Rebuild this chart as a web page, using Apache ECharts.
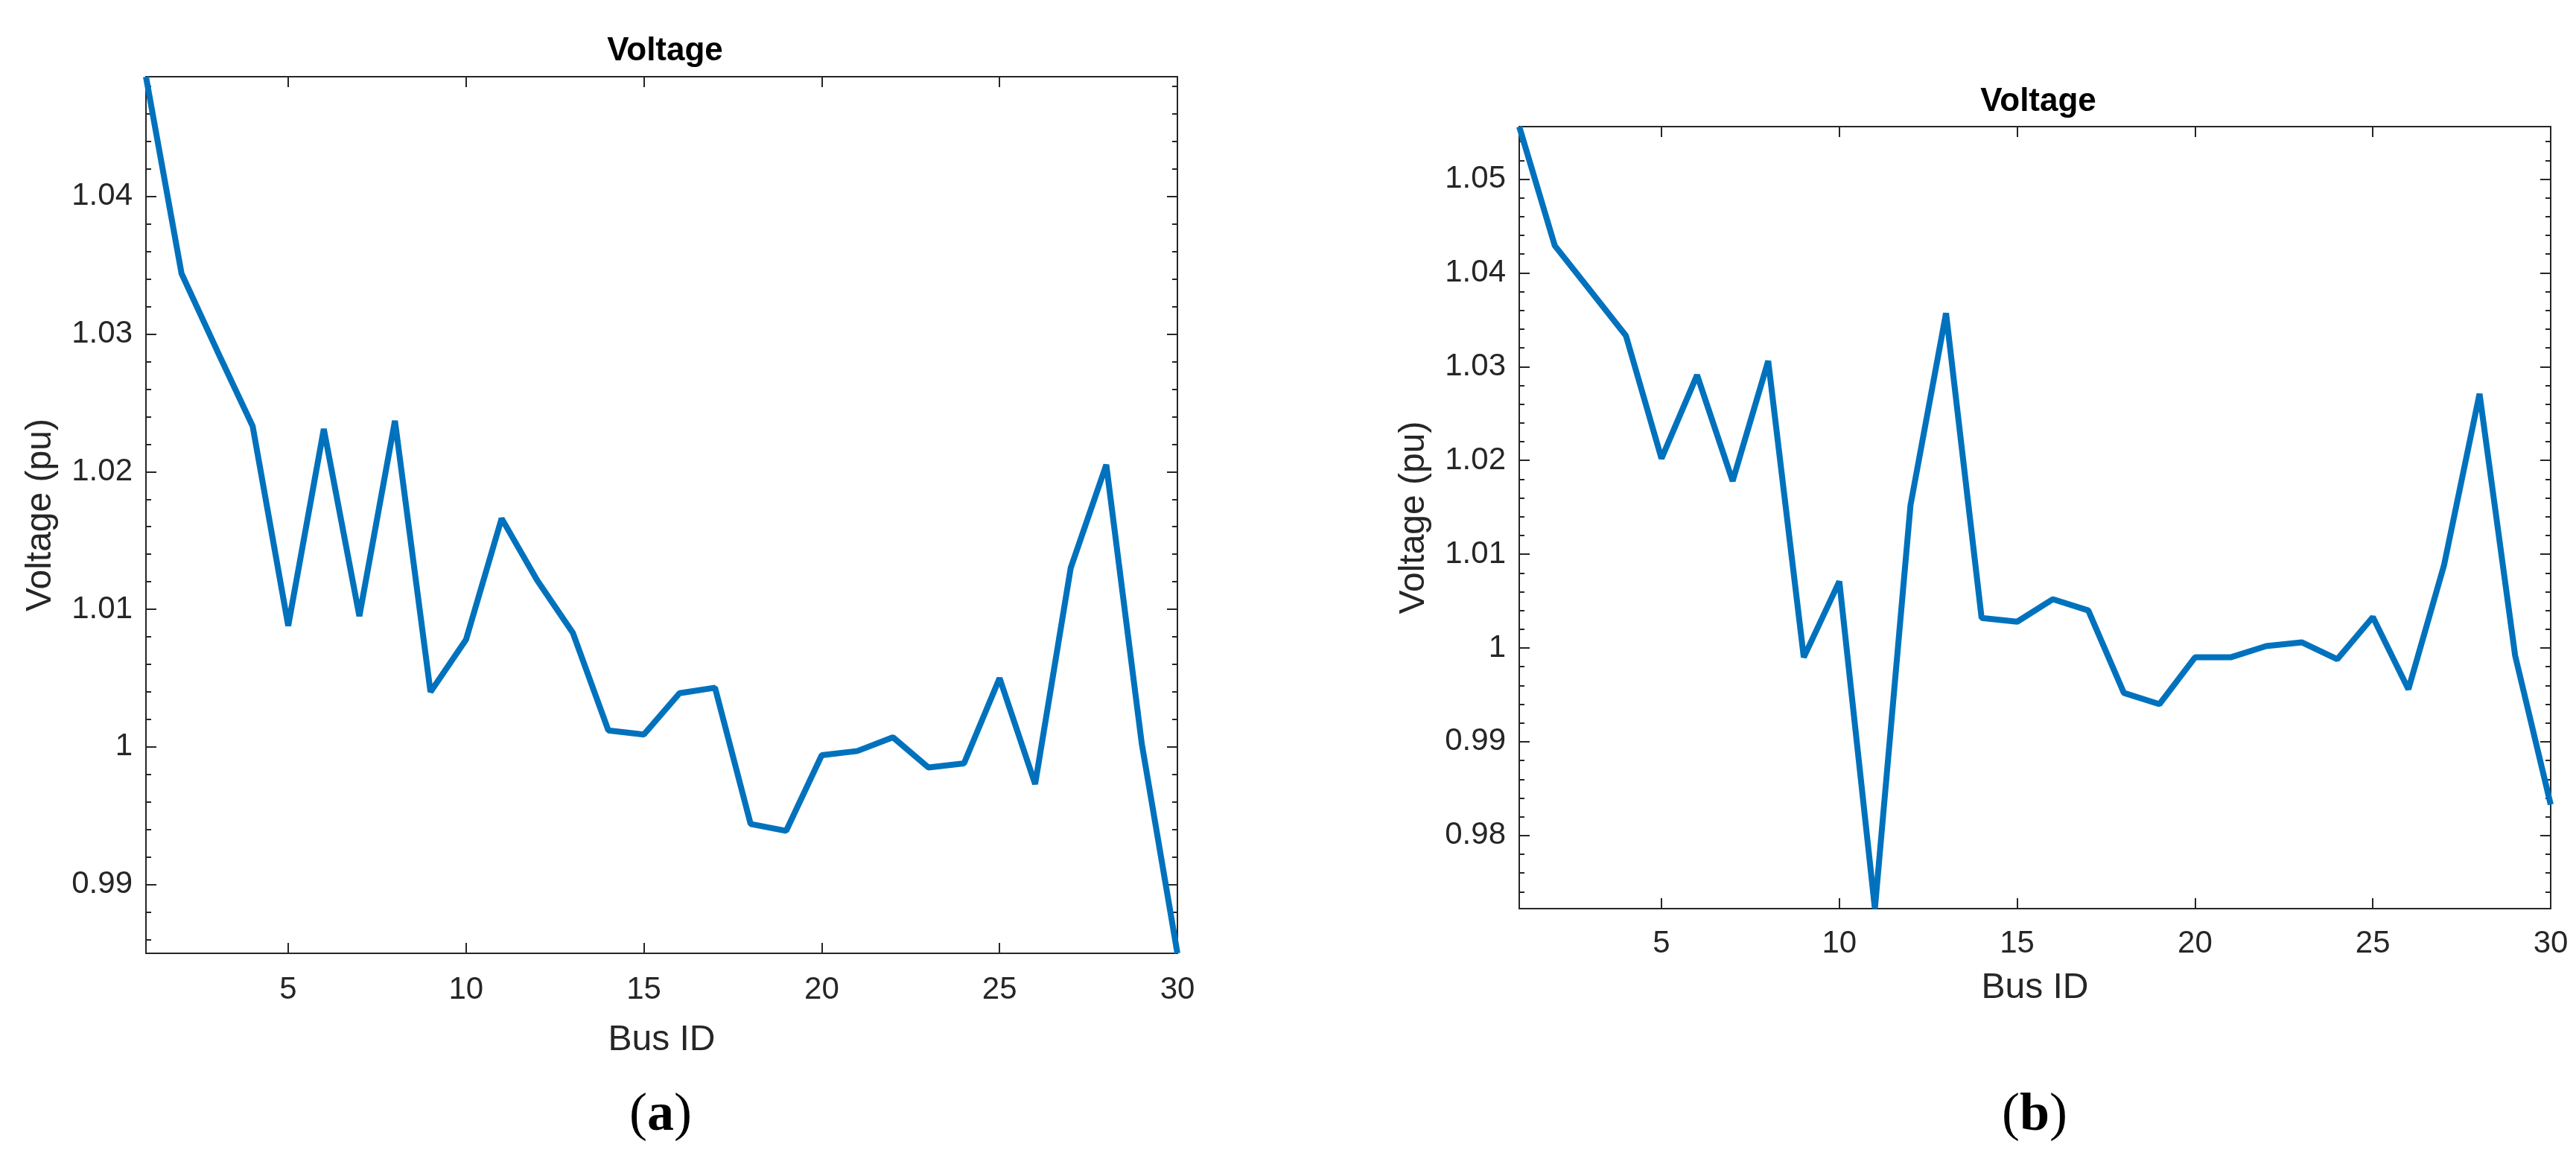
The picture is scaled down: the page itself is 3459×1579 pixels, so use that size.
<!DOCTYPE html>
<html>
<head>
<meta charset="utf-8">
<script src="https://cdn.jsdelivr.net/npm/echarts@6/dist/echarts.min.js"></script>
<style>html,body{margin:0;padding:0;background:#fff}#main{width:3459px;height:1579px}</style>
</head>
<body>
<div id="main"></div>
<script>
var dom = document.getElementById('main');
var myChart = echarts.init(dom);

// bus voltages
var voltageA = [1.0487, 1.0344, 1.0288, 1.0233, 1.0088, 1.0231, 1.0095, 1.0237, 1.0040, 1.0078,
    1.0166, 1.0121, 1.0083, 1.0012, 1.0009, 1.0039, 1.0043, 0.9944, 0.9939, 0.9994,
    0.9997, 1.0007, 0.9985, 0.9988, 1.0050, 0.9973, 1.0130, 1.0205, 1.0002, 0.9850];
var voltageB = [1.0556, 1.0429, 1.0381, 1.0333, 1.0202, 1.0291, 1.0178, 1.0306, 0.9990, 1.0071,
    0.9722, 1.0152, 1.0357, 1.0032, 1.0028, 1.0052, 1.0040, 0.9952, 0.9940, 0.9990,
    0.9990, 1.0002, 1.0006, 0.9988, 1.0033, 0.9956, 1.0088, 1.0271, 0.9992, 0.9833];
var xTicks = [5, 10, 15, 20, 25, 30];
var yTicksA = [0.99, 1, 1.01, 1.02, 1.03, 1.04];
var yTicksB = [0.98, 0.99, 1, 1.01, 1.02, 1.03, 1.04, 1.05];
var rangeA = [0.985, 1.0487];
var rangeB = [0.9722, 1.0556];

var axisColor = '#262626';
var font = 'Liberation Sans, Arial, sans-serif';

function minorTicks(r) {
    var out = [];
    for (var k = Math.ceil(r[0] / 0.002 - 1e-6); k * 0.002 <= r[1] + 1e-9; k++) {
        out.push(+(k * 0.002).toFixed(4));
    }
    return out;
}

function toPoints(arr) {
    return arr.map(function (v, i) { return [i + 1, v]; });
}

var grids = [
    {left: 196, top: 103, width: 1385, height: 1177},
    {left: 2040, top: 170, width: 1385, height: 1050}
];
var xAxes = [], yAxes = [];
[[yTicksA, rangeA, 28, 93], [yTicksB, rangeB, 26, 83]].forEach(function (cfg, g) {
    var line = {show: true, lineStyle: {color: axisColor, width: 2}};
    xAxes.push({
        type: 'value', gridIndex: g, min: 1, max: 30, position: 'bottom',
        name: 'Bus ID', nameLocation: 'middle', nameGap: cfg[3],
        nameTextStyle: {fontFamily: font, fontSize: 48, color: axisColor},
        axisLine: line, splitLine: {show: false},
        axisTick: {inside: true, length: 14, customValues: xTicks, lineStyle: {color: axisColor, width: 2}},
        axisLabel: {customValues: xTicks, margin: cfg[2], fontFamily: font, fontSize: 42, color: axisColor}
    });
    xAxes.push({
        type: 'value', gridIndex: g, min: 1, max: 30, position: 'top',
        axisLine: line, splitLine: {show: false},
        axisTick: {inside: true, length: 14, customValues: xTicks, lineStyle: {color: axisColor, width: 2}},
        axisLabel: {show: false}
    });
    ['left', 'right'].forEach(function (pos) {
        yAxes.push({
            type: 'value', gridIndex: g, min: cfg[1][0], max: cfg[1][1], position: pos,
            name: pos === 'left' ? 'Voltage (pu)' : '', nameLocation: 'middle', nameGap: 117,
            nameTextStyle: {fontFamily: font, fontSize: 48, color: axisColor},
            axisLine: line, splitLine: {show: false},
            axisTick: {inside: true, length: 14, customValues: cfg[0], lineStyle: {color: axisColor, width: 2}},
            axisLabel: {
                show: pos === 'left', customValues: cfg[0], margin: 18,
                fontFamily: font, fontSize: 42, color: axisColor,
                formatter: function (v) { return String(+v.toFixed(3)); }
            }
        });
        yAxes.push({
            type: 'value', gridIndex: g, min: cfg[1][0], max: cfg[1][1], position: pos,
            axisLine: {show: false}, splitLine: {show: false},
            axisTick: {inside: true, length: 7, customValues: minorTicks(cfg[1]), lineStyle: {color: axisColor, width: 2}},
            axisLabel: {show: false}
        });
    });
});

var option = {
    backgroundColor: '#fff',
    animation: false,
    title: [
        {text: 'Voltage', left: 888, top: 42, textAlign: 'center',
            textStyle: {fontFamily: font, fontSize: 44, fontWeight: 'bold', color: '#000'}},
        {text: 'Voltage', left: 2732, top: 110, textAlign: 'center',
            textStyle: {fontFamily: font, fontSize: 44, fontWeight: 'bold', color: '#000'}}
    ],
    graphic: [
        {type: 'text', left: 845, top: 1462, style: {text: '({b|a})', textAlign: 'center',
            font: '72px "Liberation Serif", serif', fill: '#000',
            rich: {b: {fontFamily: 'Liberation Serif', fontWeight: 'bold', fontSize: 72}}}},
        {type: 'text', left: 2688, top: 1462, style: {text: '({b|b})', textAlign: 'center',
            font: '72px "Liberation Serif", serif', fill: '#000',
            rich: {b: {fontFamily: 'Liberation Serif', fontWeight: 'bold', fontSize: 72}}}}
    ],
    grid: grids,
    xAxis: xAxes,
    yAxis: yAxes,
    series: [
        {type: 'line', xAxisIndex: 0, yAxisIndex: 0, data: toPoints(voltageA), showSymbol: false,
            clip: false, lineStyle: {color: '#0072BD', width: 8}},
        {type: 'line', xAxisIndex: 2, yAxisIndex: 4, data: toPoints(voltageB), showSymbol: false,
            clip: false, lineStyle: {color: '#0072BD', width: 8}}
    ]
};

myChart.setOption(option);
</script>
</body>
</html>
